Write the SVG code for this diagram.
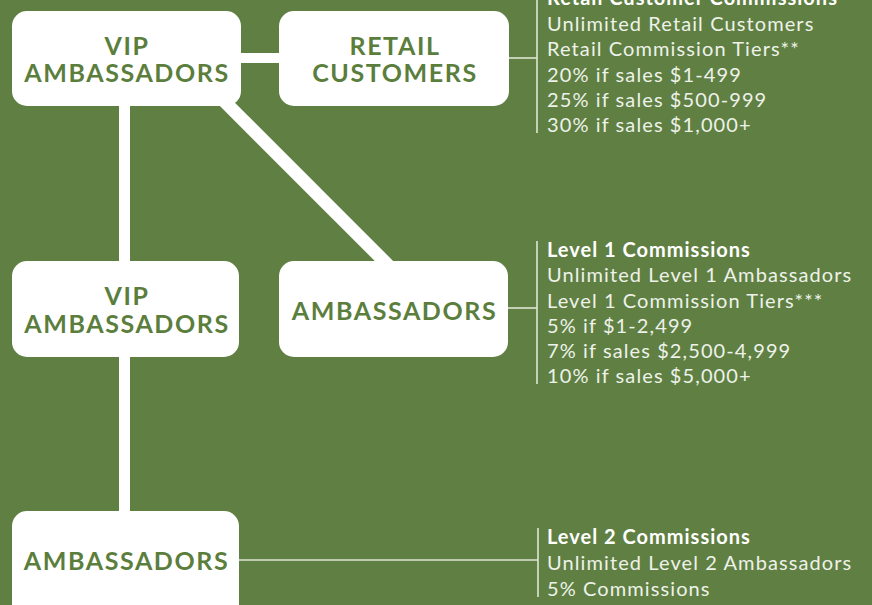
<svg xmlns="http://www.w3.org/2000/svg" width="872" height="605" viewBox="0 0 872 605">
<style>
.box{fill:#ffffff}
.lbl{font-family:Lato,"Open Sans",sans-serif;font-weight:700;font-size:25px;letter-spacing:1.6px;fill:#5b7e3d;text-anchor:middle}
.thick{stroke:#ffffff;fill:none}
.thin{stroke:#dfe6d6;stroke-width:1.6;fill:none}
.hd{font-family:Lato,"Open Sans",sans-serif;font-weight:700;font-size:20px;letter-spacing:1px;fill:#ffffff}
.tx{font-family:Lato,"Open Sans",sans-serif;font-weight:400;font-size:20px;letter-spacing:1.1px;fill:#eef2ea}
</style>
<rect width="872" height="605" fill="#5f8042"/>
<g id="connectors">
<line class="thick" x1="124.5" y1="100" x2="124.5" y2="520" stroke-width="11"/>
<line class="thick" x1="230" y1="58" x2="290" y2="58" stroke-width="10"/>
<line class="thick" x1="215" y1="92" x2="392" y2="269" stroke-width="13"/>
<polyline class="thin" points="509,58 537,58"/>
<line class="thin" x1="537" y1="0" x2="537" y2="133"/>
<polyline class="thin" points="508,308 537,308"/>
<line class="thin" x1="537" y1="241" x2="537" y2="384"/>
<polyline class="thin" points="239,560 538,560"/>
<line class="thin" x1="538" y1="528" x2="538" y2="597"/>
</g>
<g id="vip1">
<rect class="box" x="12" y="11" width="229" height="95" rx="15"/>
<text class="lbl" x="127" y="55">VIP</text>
<text class="lbl" x="127" y="82">AMBASSADORS</text>
</g>
<g id="retail">
<rect class="box" x="279" y="11" width="230" height="95" rx="15"/>
<text class="lbl" x="395" y="55">RETAIL</text>
<text class="lbl" x="395" y="82">CUSTOMERS</text>
</g>
<g id="vip2">
<rect class="box" x="12" y="261" width="227" height="96" rx="15"/>
<text class="lbl" x="127" y="305">VIP</text>
<text class="lbl" x="127" y="333">AMBASSADORS</text>
</g>
<g id="amb1">
<rect class="box" x="279" y="261" width="229" height="96" rx="15"/>
<text class="lbl" x="394.5" y="320">AMBASSADORS</text>
</g>
<g id="amb2">
<rect class="box" x="12" y="511" width="227" height="110" rx="15"/>
<text class="lbl" x="126.5" y="570">AMBASSADORS</text>
</g>
<g id="retail-text">
<text class="hd" x="547" y="5">Retail Customer Commissions</text>
<text class="tx" x="547" y="31">Unlimited Retail Customers</text>
<text class="tx" x="547" y="56">Retail Commission Tiers**</text>
<text class="tx" x="547" y="82">20% if sales $1-499</text>
<text class="tx" x="547" y="107">25% if sales $500-999</text>
<text class="tx" x="547" y="132">30% if sales $1,000+</text>
</g>
<g id="level1-text">
<text class="hd" x="547" y="257">Level 1 Commissions</text>
<text class="tx" x="547" y="282">Unlimited Level 1 Ambassadors</text>
<text class="tx" x="547" y="308">Level 1 Commission Tiers***</text>
<text class="tx" x="547" y="333">5% if $1-2,499</text>
<text class="tx" x="547" y="358">7% if sales $2,500-4,999</text>
<text class="tx" x="547" y="383">10% if sales $5,000+</text>
</g>
<g id="level2-text">
<text class="hd" x="547" y="544">Level 2 Commissions</text>
<text class="tx" x="547" y="570">Unlimited Level 2 Ambassadors</text>
<text class="tx" x="547" y="596">5% Commissions</text>
</g>
</svg>
